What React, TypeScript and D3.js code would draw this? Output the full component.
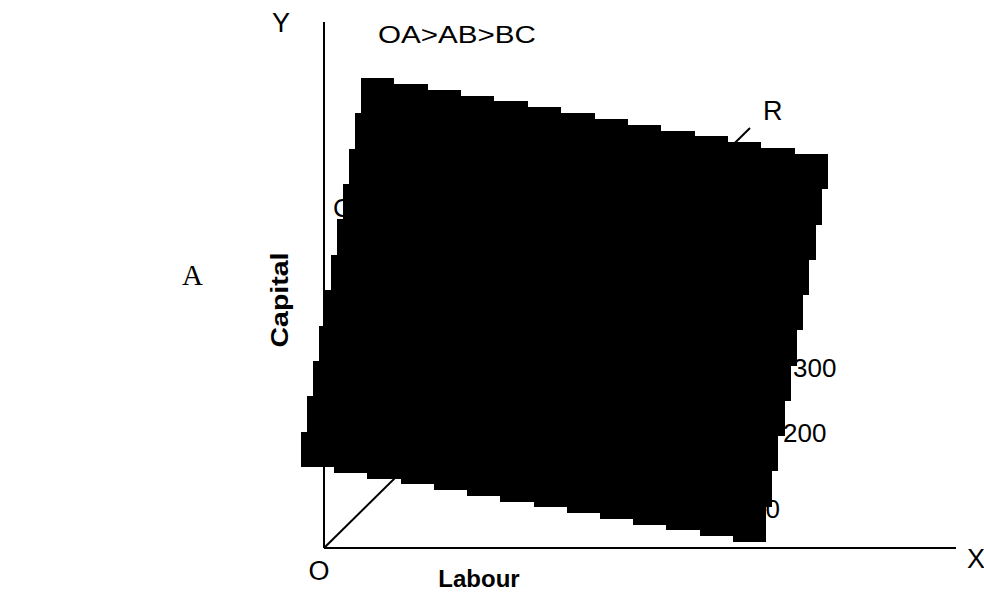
import React from "react";
import * as d3 from "d3";

// diagram values (labour / capital units, origin at O)
const isoquantLevels = [100, 200, 300];
const isoquantLabour = [456, 459, 469];
const isoquantCapital = [30, 106, 171];

const rayLabour = [0, 426];
const rayCapital = [0, 420];

// the black block that covers the middle of the diagram (TL, TR, BR, BL)
const coverLabour = [37, 504, 442, -23];
const coverCapital = [470, 394, 6, 81];
const coverSteps = [14, 11, 14, 11];

const width = 984;
const height = 592;

const x = d3.scaleLinear().domain([0, 632]).range([324, 956]);
const y = d3.scaleLinear().domain([0, 526]).range([548, 22]);

type Pt = [number, number];

function stairs(p: Pt, q: Pt, n: number, horizontalFirst: boolean): Pt[] {
  const pts: Pt[] = [];
  const dx = (q[0] - p[0]) / (horizontalFirst ? n : n - 1);
  const dy = (q[1] - p[1]) / (horizontalFirst ? n - 1 : n);
  for (let i = 0; i < n; i++) {
    if (horizontalFirst) {
      pts.push([p[0] + i * dx, p[1] + i * dy]);
      pts.push([p[0] + (i + 1) * dx, p[1] + i * dy]);
    } else {
      pts.push([p[0] + i * dx, p[1] + i * dy]);
      pts.push([p[0] + i * dx, p[1] + (i + 1) * dy]);
    }
  }
  return pts;
}

const sans = "'Liberation Sans', Arial, sans-serif";

export default function App() {
  const corners: Pt[] = coverLabour.map((l, i) => [x(l), y(coverCapital[i])]);
  const pts: Pt[] = [];
  for (let e = 0; e < 4; e++) {
    pts.push(...stairs(corners[e], corners[(e + 1) % 4], coverSteps[e], e % 2 === 0));
  }
  const cover = d3.line()(pts) + "Z";

  const ray = d3.line()(rayLabour.map((l, i) => [x(l), y(rayCapital[i])] as Pt));

  return (
    <svg
      width={width}
      height={height}
      style={{ position: "fixed", left: 0, top: 0, background: "#fff" }}
      fontFamily={sans}
    >
      {/* axes */}
      <line x1={x(0)} y1={y(0)} x2={x.range()[1]} y2={y(0)} stroke="#000" strokeWidth={2} />
      <line x1={x(0)} y1={y(0)} x2={x(0)} y2={y.range()[1]} stroke="#000" strokeWidth={2} />
      <path d={ray || ""} stroke="#000" strokeWidth={2} fill="none" />

      <text x={281} y={32} fontSize={27} textAnchor="middle">Y</text>
      <text x={967} y={568} fontSize={27}>X</text>
      <text x={319} y={580} fontSize={27} textAnchor="middle">O</text>
      <text x={378} y={43} fontSize={24} textLength={158} lengthAdjust="spacingAndGlyphs">
        OA&gt;AB&gt;BC
      </text>
      <text x={763} y={120} fontSize={27}>R</text>
      <text x={333} y={217} fontSize={26}>C</text>

      {isoquantLevels.map((lv, i) => (
        <text
          key={lv}
          x={x(isoquantLabour[i])}
          y={y(isoquantCapital[i])}
          fontSize={26}
          textAnchor={i === 0 ? "end" : "start"}
        >
          {lv}
        </text>
      ))}

      <path d={cover} fill="#000" shapeRendering="crispEdges" />

      <text
        transform="translate(288,300) rotate(-90)"
        fontSize={24}
        fontWeight="bold"
        textAnchor="middle"
        textLength={95}
        lengthAdjust="spacingAndGlyphs"
      >
        Capital
      </text>
      <text x={479} y={587} fontSize={24} fontWeight="bold" textAnchor="middle">
        Labour
      </text>
      <text x={182} y={285} fontSize={29} fontFamily="'Liberation Serif', 'Times New Roman', serif">
        A
      </text>
    </svg>
  );
}
